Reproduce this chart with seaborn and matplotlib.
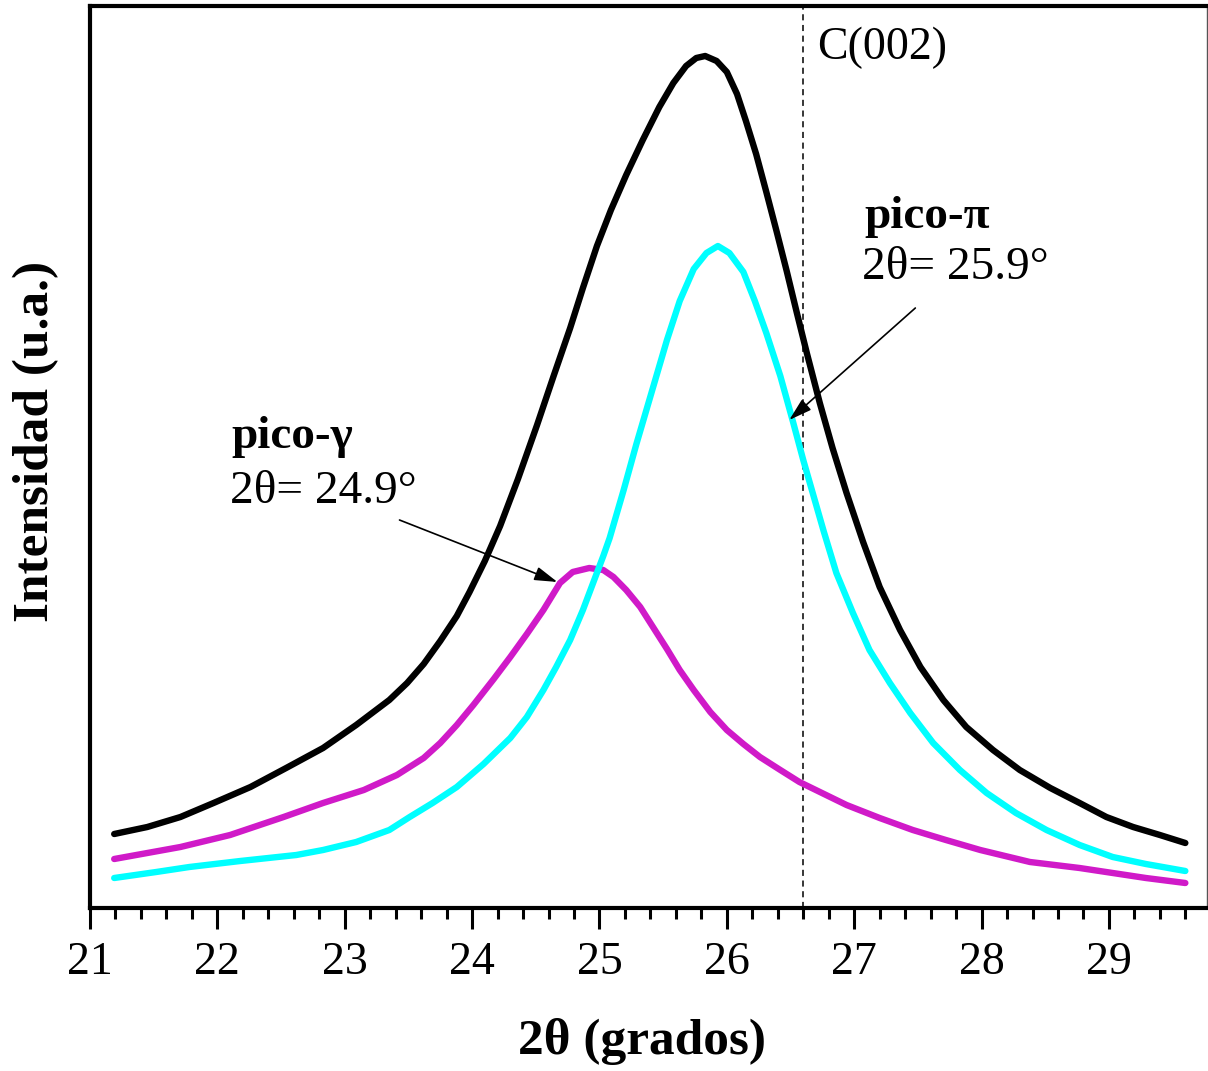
import numpy as np
import pandas as pd
import matplotlib
matplotlib.use("Agg")
import matplotlib.pyplot as plt
import seaborn as sns
from matplotlib.ticker import MultipleLocator

# Deconvoluted C(002) region of the XRD pattern (2theta in degrees, intensity in a.u.)
total_x = [21.19, 21.45, 21.71, 21.97, 22.26, 22.54, 22.83, 23.09, 23.35, 23.49, 23.62,
           23.75, 23.88, 23.98, 24.10, 24.22, 24.36, 24.51, 24.64, 24.77, 24.87, 24.98,
           25.09, 25.21, 25.34, 25.47, 25.58, 25.68, 25.76, 25.83, 25.92, 26.00, 26.08,
           26.15, 26.23, 26.31, 26.39, 26.47, 26.55, 26.63, 26.73, 26.83, 26.94, 27.07,
           27.20, 27.36, 27.52, 27.70, 27.88, 28.09, 28.30, 28.54, 28.77, 28.98, 29.19,
           29.40, 29.60]
total_y = [74, 81, 91, 105, 121, 140, 160, 183, 208, 225, 244,
           267, 292, 316, 347, 382, 429, 483, 532, 580, 620, 662,
           698, 733, 768, 801, 825, 842, 850, 852, 847, 836, 814,
           787, 754, 716, 677, 637, 595, 554, 505, 460, 415, 366,
           321, 278, 241, 208, 181, 158, 138, 120, 105, 91, 81,
           73, 65]

pi_x = [21.19, 21.52, 21.78, 22.18, 22.62, 22.83, 23.09, 23.35, 23.51, 23.69, 23.88,
        24.09, 24.30, 24.43, 24.56, 24.66, 24.77, 24.87, 24.95, 25.03, 25.08, 25.19,
        25.29, 25.41, 25.53, 25.63, 25.74, 25.84, 25.93, 26.02, 26.13, 26.22, 26.31,
        26.42, 26.52, 26.60, 26.76, 26.86, 26.99, 27.12, 27.28, 27.44, 27.62, 27.83,
        28.04, 28.27, 28.51, 28.77, 29.03, 29.29, 29.60]
pi_y = [30, 36, 41, 47, 53, 58, 66, 78, 91, 105, 121,
        144, 170, 191, 218, 241, 268, 298, 325, 352, 370, 418,
        464, 516, 568, 607, 639, 655, 662, 655, 636, 607, 575,
        532, 486, 448, 377, 335, 295, 258, 225, 195, 165, 138,
        115, 95, 78, 63, 51, 44, 37]

gamma_x = [21.19, 21.45, 21.71, 22.10, 22.52, 22.83, 23.15, 23.41, 23.62, 23.75, 23.88,
           24.01, 24.17, 24.30, 24.43, 24.56, 24.69, 24.79, 24.92, 25.03, 25.11, 25.21,
           25.32, 25.42, 25.53, 25.63, 25.74, 25.87, 26.00, 26.13, 26.26, 26.42, 26.57,
           26.94, 27.20, 27.46, 27.72, 27.99, 28.38, 28.77, 29.03, 29.29, 29.60]
gamma_y = [49, 55, 61, 73, 91, 105, 118, 133, 150, 165, 183,
           203, 229, 251, 274, 298, 325, 336, 340, 338, 331, 318,
           301, 281, 259, 238, 218, 196, 178, 164, 151, 138, 126,
           103, 90, 78, 68, 58, 46, 40, 35, 30, 25]

c002_position = 26.6
x_ticks = [21, 22, 23, 24, 25, 26, 27, 28, 29]

sns.set_style("white")
plt.rcParams["font.family"] = ["Liberation Serif", "DejaVu Serif"]
plt.rcParams["text.color"] = "black"
plt.rcParams["axes.labelcolor"] = "black"
plt.rcParams["xtick.color"] = "black"

fig = plt.figure(figsize=(12.08, 10.71), dpi=100)
ax = fig.add_axes([90 / 1208, 163 / 1071, 1117 / 1208, 902 / 1071])

curves = pd.concat([
    pd.DataFrame({"x": total_x, "y": total_y, "curve": "total"}),
    pd.DataFrame({"x": gamma_x, "y": gamma_y, "curve": "gamma"}),
    pd.DataFrame({"x": pi_x, "y": pi_y, "curve": "pi"}),
])
palette = {"total": "#000000", "gamma": "#D01AC8", "pi": "#00FFFF"}
sns.lineplot(data=curves, x="x", y="y", hue="curve", palette=palette, sort=False,
             estimator=None, linewidth=4.6, legend=False, ax=ax,
             solid_capstyle="round", solid_joinstyle="round")

ax.axvline(c002_position, color="black", linestyle=(0, (4, 3)), linewidth=1.1, zorder=1)

ax.set_xlim(21, 29.77)
ax.set_ylim(0, 902)
ax.set_xticks(x_ticks)
ax.set_xticklabels([str(t) for t in x_ticks])
ax.xaxis.set_minor_locator(MultipleLocator(0.2))
ax.set_yticks([])

ax.tick_params(axis="x", which="major", direction="out", length=15, width=2.2,
               labelsize=33, pad=9, bottom=True, labelcolor="black")
ax.tick_params(axis="x", which="minor", direction="out", length=8, width=2.2, bottom=True)

for side in ["left", "bottom", "top"]:
    ax.spines[side].set_linewidth(3.0)
    ax.spines[side].set_color("black")
ax.spines["right"].set_linewidth(1.0)
ax.spines["right"].set_color("#555555")

ax.set_xlabel("2θ (grados)", fontsize=37, fontweight="bold")
ax.set_ylabel("Intensidad (u.a.)", fontsize=37, fontweight="bold")
ax.xaxis.set_label_coords(0.494, -0.122)
ax.yaxis.set_label_coords(-0.028, 0.517)

ax.text(26.71, 860, "C(002)", fontsize=33, va="center", ha="left")
ax.text(22.11, 471, "pico-γ", fontsize=34, fontweight="bold", va="center", ha="left")
ax.text(22.10, 416, "2θ= 24.9°", fontsize=34, va="center", ha="left")
ax.text(27.08, 691, "pico-π", fontsize=34, fontweight="bold", va="center", ha="left")
ax.text(27.06, 640, "2θ= 25.9°", fontsize=34, va="center", ha="left")

arrow = dict(arrowstyle="-|>,head_length=1.4,head_width=0.42", color="black",
             linewidth=1.2, shrinkA=0, shrinkB=0)
ax.annotate("", xy=(24.67, 326), xytext=(23.43, 388), arrowprops=arrow)
ax.annotate("", xy=(26.49, 488), xytext=(27.48, 600), arrowprops=arrow)

fig.savefig("out.png", dpi=100)
